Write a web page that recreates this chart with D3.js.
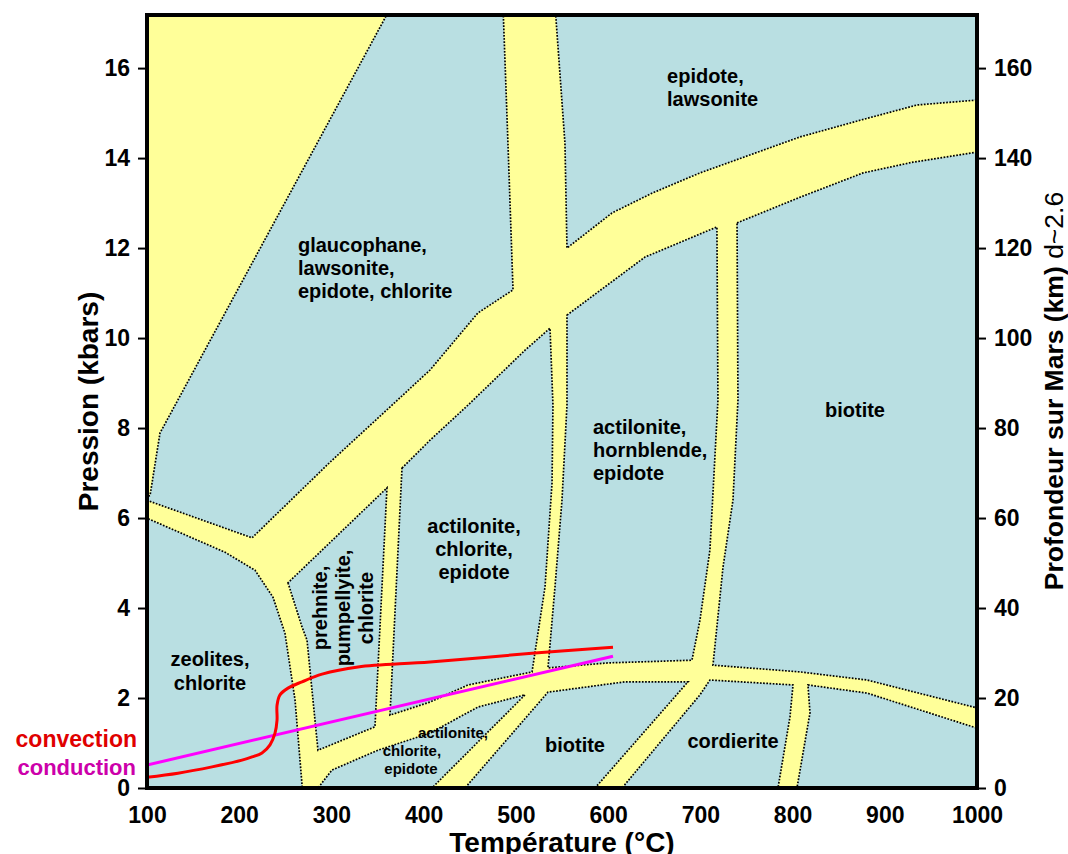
<!DOCTYPE html>
<html>
<head>
<meta charset="utf-8">
<script src="https://cdn.jsdelivr.net/npm/d3@7"></script>
<style>
  html, body { margin: 0; padding: 0; background: #fff; }
  svg { display: block; }
  text { font-family: "Liberation Sans", Arial, sans-serif; }
</style>
</head>
<body>
<svg id="chart" width="1068" height="854"></svg>
<script>
// ---------- Data (temperature °C, pressure kbar) ----------
const tempTicks = [100, 200, 300, 400, 500, 600, 700, 800, 900, 1000];
const pressureTicks = [0, 2, 4, 6, 8, 10, 12, 14, 16];
const depthTicks = [0, 20, 40, 60, 80, 100, 120, 140, 160];

// blue stability fields (the yellow bands are the gaps between them)
const fieldGlaucophane = [[365.7,17.4],[486,17.4],[491.4,14.33],[496.9,11.07],[458.9,10.56],[406.9,9.29],[365.7,8.51],[298.4,7.24],[213.9,5.56],[95,6.43],[103.3,6.5],[114.1,7.89]];
const fieldZeolites = [[95,6.04],[184.6,5.24],[217.1,4.84],[236.6,4.24],[249.6,3.44],[260.5,1.96],[269.2,-0.2],[95,-0.2]];
const fieldPrehnite = [[252.9,4.56],[268.1,3.58],[273.5,3.29],[285.4,0.84],[347.2,1.36],[360.2,6.67]];
const fieldActChlEpi = [[376.5,7.11],[406.9,7.73],[448.1,8.51],[509.9,9.73],[537,10.22],[540.2,8.51],[539.2,6.78],[531.6,4.47],[517.5,2.58],[448.1,2.29],[406.9,1.91],[363.5,1.62]];
const fieldActChlEpiLow = [[285.4,-0.2],[285.4,0],[300.6,0.40],[350.5,0.84],[406.9,1.22],[458.9,1.80],[509.9,2.07],[409,0],[409,-0.2]];
const fieldBiotiteLow = [[444.8,-0.2],[444.8,0],[534.8,2.13],[618.3,2.36],[686.6,2.36],[585.8,0],[585.8,-0.2]];
const fieldHornblende = [[555.4,10.51],[640,11.80],[718,12.47],[719.1,8.62],[710.4,5.29],[699.6,3.73],[690.9,2.84],[599.9,2.78],[534.8,2.67],[542.4,4.47],[550,6.40],[555.4,8.51]];
const fieldBiotite = [[739.8,12.56],[808.1,13.13],[876.4,13.67],[930.6,13.91],[1006,14.15],[1006,1.76],[1000,1.78],[880.7,2.40],[808.1,2.58],[713.7,2.73],[724.6,4.91],[735.4,6.40],[740.8,8.62]];
const fieldCordierite = [[615.1,-0.2],[615.1,0],[699.6,2.07],[710.4,2.40],[800.5,2.29],[797.2,1.58],[784.2,0],[784.2,-0.2]];
const fieldHighT = [[816.7,2.29],[880.7,2.11],[1000,1.33],[1006,1.31],[1006,-0.2],[804.8,-0.2],[804.8,0],[818.9,1.67]];
const fieldEpidoteLaw = [[542.4,17.4],[1006,17.4],[1006,15.3],[1000,15.29],[934.9,15.18],[873.1,14.84],[808.1,14.47],[699.6,13.67],[647.6,13.22],[604.2,12.78],[555.4,12.0],[553.2,14.33]];

const fields = [fieldGlaucophane, fieldZeolites, fieldPrehnite, fieldActChlEpi, fieldActChlEpiLow,
                fieldBiotiteLow, fieldHornblende, fieldBiotite, fieldCordierite, fieldHighT, fieldEpidoteLaw];

// geotherms
const convection = [[100,0.24],[133.6,0.33],[170.5,0.47],[203,0.62],[213.9,0.69],[224.7,0.78],[233.4,0.96],[238.8,1.22],[241,1.51],[241,1.84],[244.2,2.07],[252.9,2.22],[268.1,2.36],[289.8,2.53],[328.8,2.69],[406.9,2.80],[520.7,3.0],[605.3,3.13]];
const conduction = [[100,0.51],[605.3,2.93]];

// field labels: text, T, P (baseline), anchor, font size, rotated?
const fieldLabels = [
  ["glaucophane,", 263.7, 11.91, "start", 20, false],
  ["lawsonite,", 263.7, 11.40, "start", 20, false],
  ["epidote, chlorite", 263.7, 10.89, "start", 20, false],
  ["epidote,", 663.9, 15.67, "start", 20, false],
  ["lawsonite", 663.9, 15.16, "start", 20, false],
  ["actilonite,", 583.6, 7.87, "start", 20, false],
  ["hornblende,", 583.6, 7.36, "start", 20, false],
  ["epidote", 583.6, 6.85, "start", 20, false],
  ["biotite", 867.7, 8.24, "middle", 20, false],
  ["actilonite,", 454.6, 5.67, "middle", 20, false],
  ["chlorite,", 454.6, 5.16, "middle", 20, false],
  ["epidote", 454.6, 4.65, "middle", 20, false],
  ["prehnite,", 295.2, 4.0, "middle", 20, true],
  ["pumpellyite,", 320.2, 4.0, "middle", 20, true],
  ["chlorite", 345.2, 4.0, "middle", 20, true],
  ["zeolites,", 168.3, 2.71, "middle", 20, false],
  ["chlorite", 168.3, 2.18, "middle", 20, false],
  ["actilonite,", 431.8, 1.11, "middle", 15, false],
  ["chlorite,", 387.3, 0.71, "middle", 15, false],
  ["epidote", 386.3, 0.31, "middle", 15, false],
  ["biotite", 564.1, 0.80, "middle", 20, false],
  ["cordierite", 735.4, 0.89, "middle", 20, false]
];

// ---------- Layout ----------
const W = 1068, H = 854;
const margin = { left: 147, right: 91, top: 15, bottom: 66 };
const plotW = W - margin.left - margin.right;
const plotH = H - margin.top - margin.bottom;

const x = d3.scaleLinear().domain([100, 1000]).range([0, plotW]);
const y = d3.scaleLinear().domain([0, 17.18]).range([plotH, 0]);
const yDepth = d3.scaleLinear().domain([0, 171.8]).range([plotH, 0]);

const svg = d3.select("#chart");
svg.append("rect").attr("width", W).attr("height", H).attr("fill", "#fff");

svg.append("defs").append("clipPath").attr("id", "plotClip")
  .append("rect").attr("width", plotW).attr("height", plotH);

const g = svg.append("g").attr("transform", `translate(${margin.left},${margin.top})`);
const plot = g.append("g").attr("clip-path", "url(#plotClip)");

plot.append("rect").attr("width", plotW).attr("height", plotH).attr("fill", "#FFFF99");

const poly = d3.line().x(d => x(d[0])).y(d => y(d[1]));
plot.selectAll("path.field").data(fields).join("path")
  .attr("class", "field")
  .attr("d", d => poly(d) + "Z")
  .attr("fill", "#B9DFE2")
  .attr("stroke", "#000")
  .attr("stroke-width", 1.7)
  .attr("stroke-dasharray", "1.7 1.5");

// labels
g.selectAll("text.flabel").data(fieldLabels).join("text")
  .attr("class", "flabel")
  .attr("transform", d => `translate(${x(d[1])},${y(d[2])})` + (d[5] ? " rotate(-90)" : ""))
  .attr("text-anchor", d => d[3])
  .attr("font-size", d => d[4])
  .attr("font-weight", "bold")
  .attr("fill", "#000")
  .text(d => d[0]);

// geotherms
const curve = d3.line().x(d => x(d[0])).y(d => y(d[1])).curve(d3.curveCatmullRom.alpha(0.5));
plot.append("path").attr("d", curve(conduction)).attr("fill", "none")
  .attr("stroke", "#FF00FF").attr("stroke-width", 3);
plot.append("path").attr("d", curve(convection)).attr("fill", "none")
  .attr("stroke", "#FF0000").attr("stroke-width", 3).attr("stroke-linejoin", "round");

// frame
g.append("rect").attr("width", plotW).attr("height", plotH)
  .attr("fill", "none").attr("stroke", "#000").attr("stroke-width", 4);

// axes
const axisStyle = sel => {
  sel.select(".domain").remove();
  sel.selectAll("text").attr("font-size", 23).attr("font-weight", "bold")
    .attr("font-family", "'Liberation Sans', Arial, sans-serif").attr("fill", "#000");
  sel.selectAll("line").attr("stroke", "#000").attr("stroke-width", 2);
};

g.append("g").attr("transform", `translate(0,${plotH})`)
  .call(d3.axisBottom(x).tickValues(tempTicks).tickSize(0).tickPadding(19).tickFormat(d3.format("d")))
  .call(axisStyle);

g.append("g").attr("transform", "translate(-2,0)")
  .call(d3.axisLeft(y).tickValues(pressureTicks).tickSize(7).tickPadding(8).tickFormat(d3.format("d")))
  .call(axisStyle);

g.append("g").attr("transform", `translate(${plotW + 2},0)`)
  .call(d3.axisRight(yDepth).tickValues(depthTicks).tickSize(7).tickPadding(8).tickFormat(d3.format("d")))
  .call(axisStyle);

// axis titles
svg.append("text")
  .attr("x", margin.left + plotW / 2).attr("y", 852)
  .attr("text-anchor", "middle").attr("font-size", 28).attr("font-weight", "bold")
  .text("Température (°C)");

svg.append("text")
  .attr("transform", `translate(98,${margin.top + plotH / 2}) rotate(-90)`)
  .attr("text-anchor", "middle").attr("font-size", 28).attr("font-weight", "bold")
  .text("Pression (kbars)");

const rt = svg.append("text")
  .attr("transform", `translate(1063,391) rotate(-90)`)
  .attr("text-anchor", "middle").attr("font-size", 26.5);
rt.append("tspan").attr("font-weight", "bold").text("Profondeur sur Mars (km)");
rt.append("tspan").attr("font-weight", "normal").text(" d~2.6");

// legend
svg.append("text").attr("x", 137).attr("y", 747).attr("text-anchor", "end")
  .attr("font-size", 23).attr("font-weight", "bold").attr("fill", "#E00000").text("convection");
svg.append("text").attr("x", 136).attr("y", 775).attr("text-anchor", "end")
  .attr("font-size", 22).attr("font-weight", "bold").attr("fill", "#CC00AA").text("conduction");
</script>
</body>
</html>
